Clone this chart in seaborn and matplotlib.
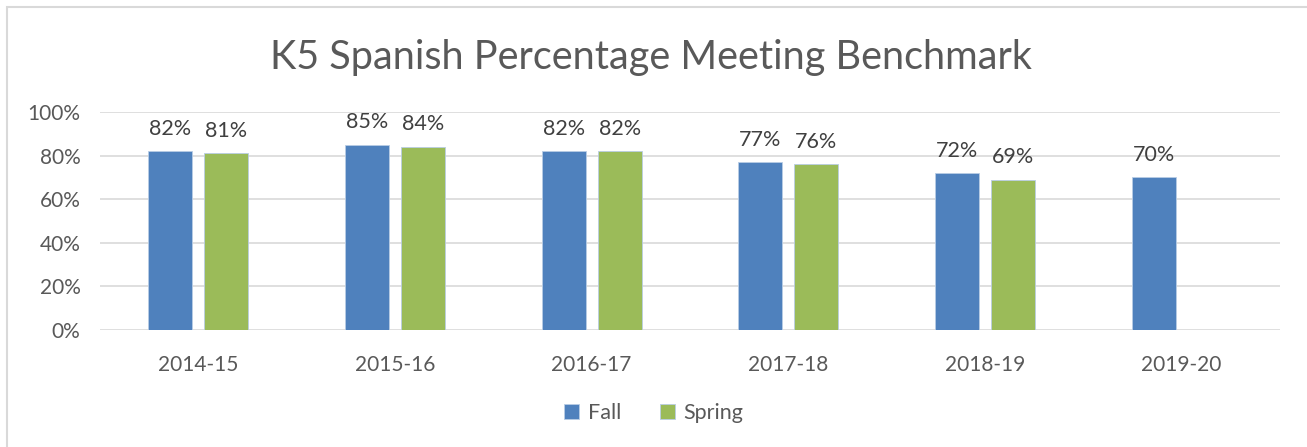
import numpy as np
import pandas as pd
import matplotlib.pyplot as plt
import matplotlib.patches as patches
from matplotlib.ticker import PercentFormatter
import seaborn as sns

years = ['2014-15', '2015-16', '2016-17', '2017-18', '2018-19', '2019-20']
fall = [82, 85, 82, 77, 72, 70]
spring = [81, 84, 82, 76, 69, np.nan]
seasons = ['Fall', 'Spring']
colors = ['#4f81bd', '#9bbb59']

df = pd.DataFrame({
    'year': years * 2,
    'season': ['Fall'] * len(years) + ['Spring'] * len(years),
    'pct': fall + spring,
}).dropna()

sns.set_style('white')
plt.rcParams['font.family'] = ['Lato', 'DejaVu Sans']

fig = plt.figure(figsize=(13.07, 4.47), dpi=100)
ax = fig.add_axes([100 / 1307, 1 - 330 / 447, 1180 / 1307, 218 / 447])

sns.barplot(data=df, x='year', y='pct', hue='season', hue_order=seasons,
            order=years, palette=colors, saturation=1, width=0.57, gap=0.21, ax=ax,
            edgecolor='#b9cde5', linewidth=0.6, legend=True)

ax.set_ylim(0, 100)
ax.set_yticks(range(0, 101, 20))
ax.yaxis.set_major_formatter(PercentFormatter(decimals=0))
ax.grid(axis='y', color='#d9d9d9', linewidth=1.2)
ax.set_axisbelow(True)
for s in ax.spines.values():
    s.set_visible(False)
ax.tick_params(axis='both', length=0, labelsize=15, labelcolor='#595959')
ax.tick_params(axis='x', pad=18)
ax.tick_params(axis='y', pad=14)
ax.set_xlabel('')
ax.set_ylabel('')

for cont in ax.containers:
    labels = [f'{b.get_height():.0f}%' for b in cont]
    ax.bar_label(cont, labels=labels, padding=9, fontsize=15.5, color='#404040')

ax.legend(loc='center', bbox_to_anchor=(0.5, (447 - 413) / 447), bbox_transform=fig.transFigure,
          ncol=2, frameon=False, fontsize=15.5, handlelength=0.7, handleheight=0.7,
          handletextpad=0.4, columnspacing=1.8, labelcolor='#595959')

fig.text(0.498, 1 - 57 / 447, 'K5 Spanish Percentage Meeting Benchmark',
         ha='center', va='center', fontsize=28.5, color='#595959')

fig.patches.append(patches.Rectangle((7 / 1307, -0.1), 1.2, 1 - 7 / 447 + 0.1,
                                     transform=fig.transFigure, fill=False,
                                     edgecolor='#d9d9d9', linewidth=1.5))

fig.savefig('out.png', dpi=100)
